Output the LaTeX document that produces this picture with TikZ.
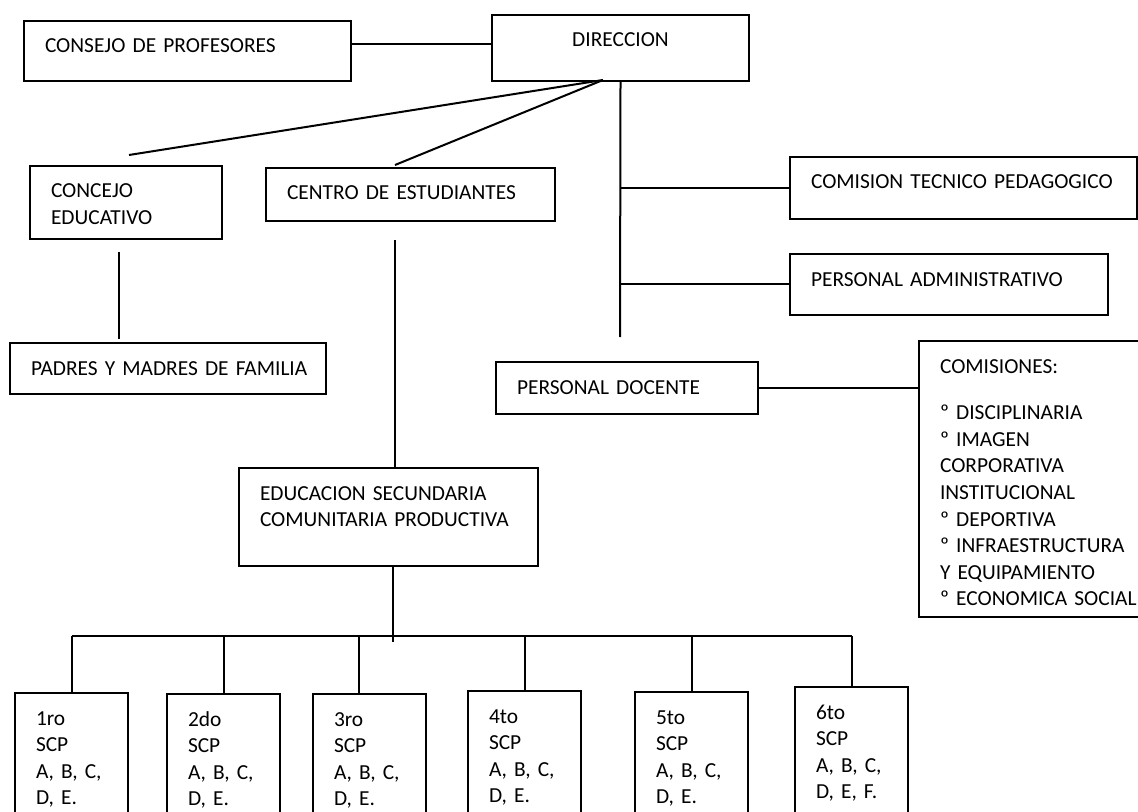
\documentclass[tikz,border=0pt]{standalone}
\usepackage{fontspec}
\setmainfont{Carlito}
\usepackage{tikz}
\usetikzlibrary{positioning, calc}
\hyphenpenalty=10000
\hbadness=10000
\hfuzz=20pt

\begin{document}
\begin{tikzpicture}[
    x=0.5pt, y=-0.5pt,
    font=\fontsize{10.7}{13.3}\selectfont,
    orgbox/.style={rectangle, draw=black, line width=1pt, anchor=north west, align=left, inner xsep=10.5pt, inner ysep=0pt, text height=16pt},
    link/.style={draw=black, line width=1pt},
    thinlink/.style={draw=black, line width=0.7pt}
]
    \clip (0,0) rectangle (1138,812);

    % top level
    \node[orgbox, text width=142.5pt, text depth=14pt] (consejo) at (23,20) {CONSEJO DE PROFESORES};
    \node[orgbox, align=center, text width=107.5pt, text depth=17pt] (dir) at (491,14) {DIRECCION};

    % left branch
    \node[orgbox, text width=75pt, text depth=20.5pt] (concejo) at (29,165) {CONCEJO\\EDUCATIVO};
    \node[orgbox, text width=123.5pt, text depth=10.5pt] (centro) at (265,167) {CENTRO DE ESTUDIANTES};
    \node[orgbox, text width=137pt, text depth=9.5pt] (padres) at (9,342) {PADRES~Y~MADRES~DE~FAMILIA};

    % right branch
    \node[orgbox, text width=152.5pt, text depth=15pt] (tec) at (789,156) {COMISION~TECNICO~PEDAGOGICO};
    \node[orgbox, text width=138pt, text depth=14.5pt] (admin) at (789,253) {PERSONAL ADMINISTRATIVO};
    \node[orgbox, text width=110pt, text depth=10pt] (docente) at (495,361) {PERSONAL DOCENTE};
    \node[orgbox, text width=99pt, text depth=122pt] (comis) at (918,340) {COMISIONES:\\[10pt]
        º~DISCIPLINARIA\\º~IMAGEN\\CORPORATIVA\\INSTITUCIONAL\\º~DEPORTIVA\\º~INFRAESTRUCTURA\\Y~EQUIPAMIENTO\\º~ECONOMICA~SOCIAL};

    % secondary level
    \node[orgbox, text width=128.5pt, text depth=33pt] (edu) at (238,467) {EDUCACION~SECUNDARIA\\COMUNITARIA~PRODUCTIVA};

    \node[orgbox, text width=35.5pt, text depth=53pt] (g1) at (14,692) {1ro\\SCP\\A,~B,~C,\\D,~E.};
    \node[orgbox, text width=35.5pt, text depth=52.5pt] (g2) at (166,693) {2do\\SCP\\A,~B,~C,\\D,~E.};
    \node[orgbox, text width=35.5pt, text depth=52.5pt] (g3) at (312,693) {3ro\\SCP\\A,~B,~C,\\D,~E.};
    \node[orgbox, text width=35.5pt, text depth=54pt] (g4) at (467,690) {4to\\SCP\\A,~B,~C,\\D,~E.};
    \node[orgbox, text width=35.5pt, text depth=53.5pt] (g5) at (634,691) {5to\\SCP\\A,~B,~C,\\D,~E.};
    \node[orgbox, text width=35.5pt, text depth=56pt] (g6) at (794,686) {6to\\SCP\\A,~B,~C,\\D,~E,~F.};

    % free ends of connectors
    \coordinate (hub) at (603,80);
    \coordinate (concejotip) at (129,155);
    \coordinate (centrotip) at (395,165);
    \coordinate (dirend) at (620,337);
    \coordinate (concejofoot) at (119,252);
    \coordinate (padreshead) at (119,339);
    \coordinate (centrofoot) at (395,240);
    \coordinate (eduend) at (393,642);
    \coordinate (bar) at (0,636);

    \draw[thinlink] ([yshift=3.5pt]consejo.east) -- ([yshift=3.5pt]consejo.east -| dir.west);
    \draw[link] (hub) -- (concejotip);
    \draw[link] (hub) -- (centrotip);
    \draw[link] (dir.south) -- (dirend);
    \draw[link] (tec.west -| dirend) -- (tec.west);
    \draw[link] (admin.west -| dirend) -- (admin.west);
    \draw[thinlink] (docente.east) -- (docente.east -| comis.west);
    \draw[link] (concejofoot) -- (padreshead);
    \draw[link] (centrofoot) -- (centrofoot |- edu.north);
    \draw[link] (eduend |- edu.south) -- (eduend);

    \draw[thinlink] (g1.north |- bar) -- (g6.north |- bar);
    \draw[link] (g1.north |- bar) -- (g1.north);
    \draw[link] (g2.north |- bar) -- (g2.north);
    \draw[link] ([xshift=-5.5pt]g3.north |- bar) -- ([xshift=-5.5pt]g3.north);
    \draw[link] (g4.north |- bar) -- (g4.north);
    \draw[link] (g5.north |- bar) -- (g5.north);
    \draw[link] (g6.north |- bar) -- (g6.north);
\end{tikzpicture}
\end{document}
